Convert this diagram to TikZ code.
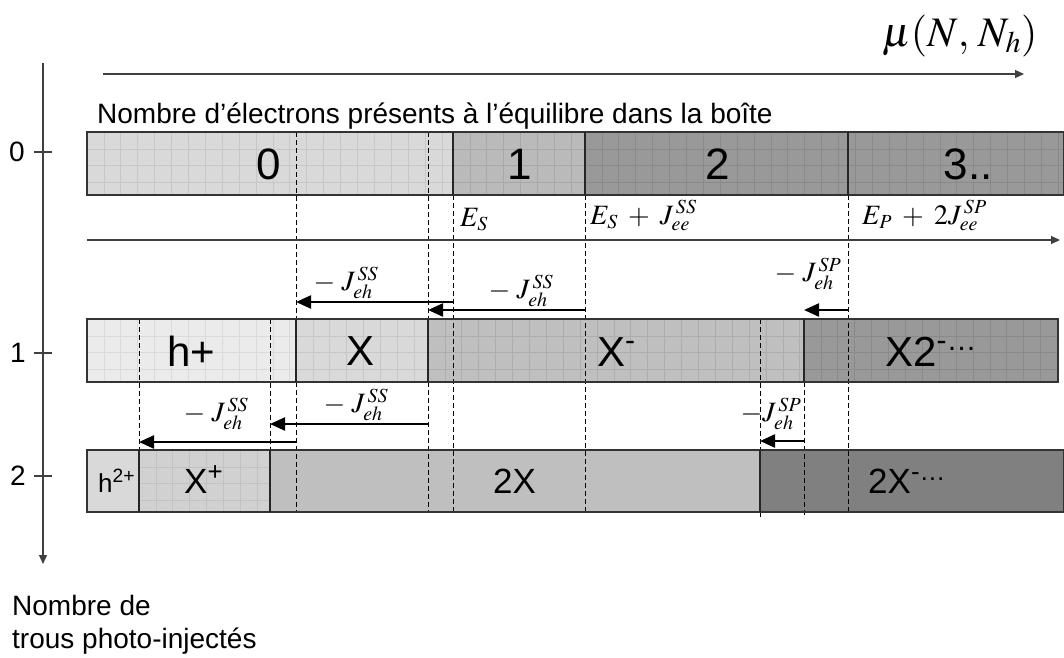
\documentclass[tikz,border=0pt]{standalone}
\usepackage{mathptmx}
\usepackage[no-math]{fontspec}
\setmainfont{Liberation Sans}
\usetikzlibrary{arrows.meta}
\DeclareMathSizes{28}{28}{20}{15}
\DeclareMathSizes{42}{42}{30}{22}
\definecolor{g92}{gray}{0.92}\definecolor{g86}{gray}{0.86}
\definecolor{g85}{gray}{0.85}\definecolor{g78}{gray}{0.78}
\definecolor{g82}{gray}{0.82}\definecolor{g76}{gray}{0.76}
\definecolor{g73}{gray}{0.73}\definecolor{g66}{gray}{0.66}
\definecolor{g75}{gray}{0.75}\definecolor{g68}{gray}{0.68}
\definecolor{g60}{gray}{0.60}\definecolor{g54}{gray}{0.54}
\definecolor{g50}{gray}{0.50}
\newcommand\gcell[6]{%
  \fill[#5] (#1,#2) rectangle (#3,#4);
  \begin{scope}
    \clip (#1,#2) rectangle (#3,#4);
    \foreach \k in {1,...,40}{\draw[#6, line width=0.7pt] ({#1+16.9*\k},#2) -- ({#1+16.9*\k},#4);}
    \foreach \k in {1,2,3}{\draw[#6, line width=0.7pt] (#1,{#2+16.9*\k}) -- (#3,{#2+16.9*\k});}
  \end{scope}}
\begin{document}
\begin{tikzpicture}[x=1pt,y=-1pt,
  txt/.style={inner sep=0pt, font=\fontsize{28}{32}\selectfont},
  huge0/.style={inner sep=0pt, font=\fontsize{44}{48}\selectfont},
  big/.style={inner sep=0pt, font=\fontsize{42}{46}\selectfont},
  mid/.style={inner sep=0pt, font=\fontsize{35}{38}\selectfont},
  small/.style={inner sep=0pt, font=\fontsize{26}{30}\selectfont},
  mlab/.style={inner sep=0pt, font=\fontsize{28}{32}\selectfont},
  axisarrow/.style={line width=1.1pt, black!75, -{Triangle[length=9pt,width=8pt]}},
  jump/.style={line width=2.3pt, -{Triangle[length=15pt,width=13pt]}},
  dline/.style={line width=0.9pt, dash pattern=on 5pt off 3pt},
  barframe/.style={draw=black!80, line width=1.3pt},
  sep/.style={line width=1.3pt, black!85},
]
\useasboundingbox (0,0) rectangle (1064,657);
\fill[white] (0,0) rectangle (1064,657);

% ---- row 0 cells
\gcell{87}{132}{453}{195}{g85}{g78}
\gcell{453}{132}{585}{195}{g73}{g66}
\gcell{585}{132}{1064}{195}{g60}{g54}
% ---- row 1 cells
\gcell{87}{319}{296}{382}{g92}{g86}
\gcell{296}{319}{428}{382}{g85}{g78}
\gcell{428}{319}{804}{382}{g75}{g68}
\gcell{804}{319}{1058}{382}{g60}{g54}
% ---- row 2 cells
\fill[g85] (87,450) rectangle (139,512);
\gcell{139}{450}{270}{512}{g82}{g76}
\fill[g75] (270,450) rectangle (760,512);
\fill[g50] (760,450) rectangle (1064,512);

% ---- dashed guide lines
\draw[dline] (139,319) -- (139,450);
\draw[dline] (270,319) -- (270,450);
\draw[dline] (296,132) -- (296,319);
\draw[dline] (296,382) -- (296,512);
\draw[dline] (428,132) -- (428,319);
\draw[dline] (428,382) -- (428,512);
\draw[dline] (453,195) -- (453,512);
\draw[dline] (585,195) -- (585,512);
\draw[dline] (760,319) -- (760,450);
\draw[dline] (760,512) -- (760,518);
\draw[dline] (804,382) -- (804,518);
\draw[dline] (848,195) -- (848,512);

% ---- frames and separators
\draw[barframe] (87,132) rectangle (1064,195);
\draw[sep] (453,132) -- (453,195);
\draw[sep] (585,132) -- (585,195);
\draw[sep] (848,132) -- (848,195);
\draw[barframe] (87,319) rectangle (1058,382);
\draw[sep] (296,319) -- (296,382);
\draw[sep] (428,319) -- (428,382);
\draw[sep] (804,319) -- (804,382);
\draw[barframe] (87,450) rectangle (1064,512);
\draw[sep] (139,450) -- (139,512);
\draw[sep] (270,450) -- (270,512);
\draw[sep] (760,450) -- (760,512);

% ---- axes
\coordinate (vtop) at (43,63);
\coordinate (vbot) at (43,564);
\draw[axisarrow] (vtop) -- (vbot);
\coordinate (htop0) at (103,74);
\coordinate (htop1) at (1024,74);
\draw[axisarrow] (htop0) -- (htop1);
\coordinate (hmid0) at (87,240);
\coordinate (hmid1) at (1060,240);
\draw[axisarrow] (hmid0) -- (hmid1);
\draw[line width=1.1pt, black!75] (34,152) -- (52,152);
\draw[line width=1.1pt, black!75] (34,353) -- (52,353);
\draw[line width=1.1pt, black!75] (34,476) -- (52,476);

% ---- jump arrows
\coordinate (a1s) at (453,302); \coordinate (a1e) at (296,302);
\coordinate (a2s) at (585,310); \coordinate (a2e) at (428,310);
\coordinate (a3s) at (848,310); \coordinate (a3e) at (804,310);
\coordinate (b1s) at (296,442); \coordinate (b1e) at (139,442);
\coordinate (b2s) at (428,424); \coordinate (b2e) at (270,424);
\coordinate (b3s) at (804,441); \coordinate (b3e) at (760,441);
\draw[jump] (a1s) -- (a1e);
\draw[jump] (a2s) -- (a2e);
\draw[jump] (a3s) -- (a3e);
\draw[jump] (b1s) -- (b1e);
\draw[jump] (b2s) -- (b2e);
\draw[jump] (b3s) -- (b3e);

% ---- labels
\node[inner sep=0pt, anchor=base west, font=\fontsize{42}{46}\selectfont] (mu) at (882,46) {$\mu(N,\,N_h)$};
\node[txt, anchor=base west] (head) at (97,123) {Nombre d’électrons présents à l’équilibre dans la boîte};
\node[txt, anchor=base west] (foot1) at (12,615) {Nombre de};
\node[txt, anchor=base west] (foot2) at (12,648) {trous photo-injectés};
\node[txt] (t0) at (17,152) {0};
\node[txt] (t1) at (18,353) {1};
\node[txt] (t2) at (18,476) {2};

\node[huge0] (n0) at (269,164) {0};
\node[huge0] (n1) at (520,164) {1};
\node[huge0] (n2) at (718,164) {2};
\node[huge0] (n3) at (968,164) {3..};

\node[big] (hp) at (191,351) {h+};
\node[big] (xx) at (361,351) {X};
\node[big, anchor=base west] (xm) at (597,366) {X\textsuperscript{-}};
\node[big, anchor=base west] (x2m) at (885,366) {X2\textsuperscript{-…}};

\node[small, anchor=base west] (h2p) at (98,492) {h\textsuperscript{2+}};
\node[mid, anchor=base west] (xp) at (184,493) {X\textsuperscript{+}};
\node[mid, anchor=base west] (x2) at (493,493) {2X};
\node[mid, anchor=base west] (x2xm) at (868,493) {2X\textsuperscript{-…}};

\node[mlab, anchor=base west] (es) at (460,226) {$E_S$};
\node[mlab, anchor=base west] (esj) at (590,224) {$E_S\;+\;J_{ee}^{\,SS}$};
\node[mlab, anchor=base west] (epj) at (862,224) {$E_P\;+\;2J_{ee}^{\,SP}$};

\node[mlab, anchor=south] (l1) at (346,299) {$-\;J_{eh}^{\,SS}$};
\node[mlab, anchor=south] (l2) at (521,307) {$-\;J_{eh}^{\,SS}$};
\node[mlab, anchor=south] (l3) at (808,290) {$-\;J_{eh}^{\,SP}$};
\node[mlab, anchor=south] (lb1) at (216,430) {$-\;J_{eh}^{\,SS}$};
\node[mlab, anchor=south] (lb2) at (356,421) {$-\;J_{eh}^{\,SS}$};
\node[mlab, anchor=south] (lb3) at (771,430) {$-J_{eh}^{\,SP}$};
\end{tikzpicture}
\end{document}
